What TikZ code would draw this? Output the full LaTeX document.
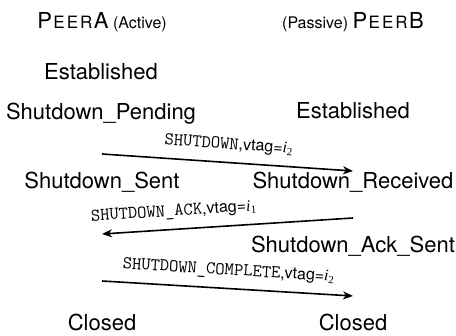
\documentclass[tikz,border=0pt]{standalone}
\usepackage{fontspec}
\setmainfont{TeX Gyre Heros}
\newfontfamily\tmsf{Liberation Serif}
\usetikzlibrary{arrows.meta}
\newcommand{\monof}{\ttfamily\fontsize{18}{20}\selectfont}
\newcommand{\vtagof}[1]{,vtag={\tmsf\itshape i}\raisebox{-3pt}{\tmsf\fontsize{11}{11}\selectfont #1}}
\newcommand{\peername}[1]{{\fontsize{22}{22}\selectfont P}\kern1.5pt{\fontsize{17}{17}\selectfont E\kern2pt E\kern2pt R}\kern1.5pt{\fontsize{22}{22}\selectfont #1}}
\begin{document}
\begin{tikzpicture}[x=1pt,y=-1pt,
  st/.style={anchor=base, inner sep=0pt, font=\fontsize{22}{26}\selectfont},
  hdr/.style={anchor=base, inner sep=0pt, font=\fontsize{16}{18}\selectfont},
  msg/.style={line width=1.6pt, -{Stealth[length=10pt,width=8pt,inset=3pt]}},
  lbl/.style={sloped, anchor=base, inner sep=0pt, yshift=13.5pt, font=\fontsize{16}{18}\selectfont}]
\useasboundingbox (0,0) rectangle (456,336);
\node[hdr] (peerA) at (102,29) {\peername{A} (Active)};
\node[hdr] (peerB) at (353,29) {(Passive) \peername{B}};
\node[st] (estA) at (101,80) {Established};
\node[st] (pendA) at (101,120) {Shutdown\_Pending};
\node[st] (estB) at (353,119) {Established};
\node[st] (sentA) at (102,189) {Shutdown\_Sent};
\node[st] (recvB) at (353,189) {Shutdown\_Received};
\node[st] (acksB) at (353,253) {Shutdown\_Ack\_Sent};
\node[st] (closedA) at (102,331) {Closed};
\node[st] (closedB) at (353,331) {Closed};
\coordinate (m1s) at (102,154);
\coordinate (m1e) at (353,171);
\coordinate (m2s) at (353,218);
\coordinate (m2e) at (102,234);
\coordinate (m3s) at (102,281);
\coordinate (m3e) at (353,296);
\draw[msg] (m1s) -- node[lbl] (l1) {{\monof SHUTDOWN}\vtagof{2}} (m1e);
\draw[msg] (m2s) -- node[lbl, pos=0.71] (l2) {{\monof SHUTDOWN\_ACK}\vtagof{1}} (m2e);
\draw[msg] (m3s) -- node[lbl] (l3) {{\monof SHUTDOWN\_COMPLETE}\vtagof{2}} (m3e);
\end{tikzpicture}
\end{document}
